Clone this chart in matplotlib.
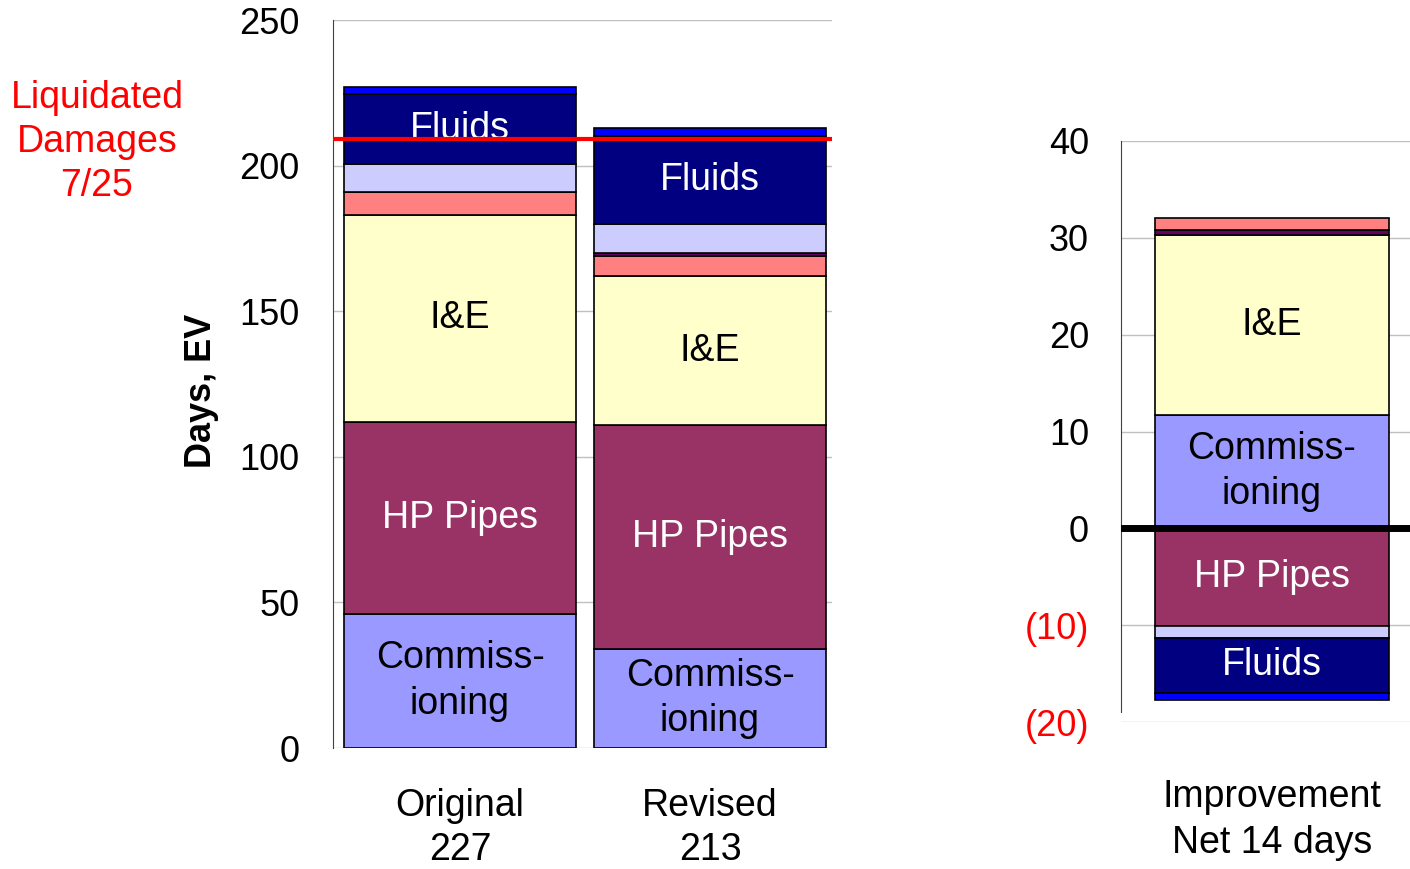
import matplotlib
matplotlib.use("Agg")
import matplotlib.pyplot as plt
import numpy as np

plt.rcParams["font.family"] = ["Liberation Sans", "DejaVu Sans"]

# stacked segments, bottom to top
segments = ["Commissioning", "HP Pipes", "I&E", "Other A", "Other B", "Other C", "Fluids", "Other D"]
seg_colors = ["#9999FF", "#993366", "#FFFFCC", "#FF8080", "#660066", "#CCCCFF", "#000080", "#0000FF"]
seg_labels = ["Commiss-\nioning", "HP Pipes", "I&E", "", "", "", "Fluids", ""]
seg_text_colors = ["black", "white", "black", "black", "white", "black", "white", "white"]

bars = ["Original\n227", "Revised\n213"]
original = [46, 66, 71, 8, 0, 9.5, 24, 2.5]
revised = [34, 77, 51, 7, 1, 10, 30, 3]

liquidated_damages = 209

# improvement (original - revised), drawn as positive / negative stacks
imp_pos_names = ["Commissioning", "I&E", "Other B", "Other A"]
imp_pos = [11.7, 18.6, 0.5, 1.2]
imp_neg_names = ["HP Pipes", "Other C", "Fluids", "Other D"]
imp_neg = [-10.1, -1.2, -5.7, -0.7]
imp_label = "Improvement\nNet 14 days"

color_of = dict(zip(segments, seg_colors))
label_of = dict(zip(segments, seg_labels))
tcolor_of = dict(zip(segments, seg_text_colors))

FS_TICK = 26
FS_BAR = 27
FS_CAT = 27

fig = plt.figure(figsize=(14.1, 8.69), dpi=100)

###############################################################
# left panel

ax = fig.add_axes([333 / 1410, 1 - 748 / 869, 499 / 1410, 728 / 869])

x = np.arange(len(bars))
width = 0.928
data = np.array([original, revised])
bottom = np.zeros(len(bars))

for i, name in enumerate(segments):
    vals = data[:, i]
    ax.bar(x, vals, width, bottom=bottom, color=seg_colors[i],
           edgecolor="black", linewidth=1.2, zorder=2)
    if seg_labels[i]:
        for j in range(len(bars)):
            ax.text(x[j], bottom[j] + vals[j] / 2, seg_labels[i],
                    ha="center", va="center", fontsize=FS_BAR,
                    color=seg_text_colors[i], zorder=3, linespacing=1.33)
    bottom += vals

ax.axhline(liquidated_damages, color="#FF0000", linewidth=3, zorder=4)

ax.set_xlim(-0.508, 1.488)
ax.set_ylim(0, 250)
ax.set_yticks(np.arange(0, 251, 50))
ax.tick_params(axis="y", length=0, pad=24, labelsize=FS_TICK)
ax.tick_params(axis="x", length=0, pad=29, labelsize=FS_CAT)
ax.set_xticks(x)
ax.set_xticklabels(bars, linespacing=1.28)
ax.yaxis.grid(True, color="#C0C0C0", linewidth=1)
ax.set_axisbelow(True)
for s in ["top", "right", "bottom"]:
    ax.spines[s].set_visible(False)
ax.spines["left"].set_color("#404040")

ax.set_ylabel("Days, EV", fontsize=26, fontweight="bold")
ax.yaxis.set_label_coords(-0.228, 0.49)

fig.text(97 / 1410, 1 - 142 / 869, "Liquidated\nDamages\n7/25",
         color="#FF0000", fontsize=27, ha="center", va="center",
         linespacing=1.3)

###############################################################
# right panel

ax2 = fig.add_axes([1121 / 1410, 1 - 722 / 869, 289 / 1410, 581 / 869])

b = 0
for name, v in zip(imp_pos_names, imp_pos):
    ax2.bar(0, v, 1, bottom=b, color=color_of[name],
            edgecolor="black", linewidth=1.2, zorder=2)
    if label_of[name]:
        ax2.text(0, b + v / 2, label_of[name], ha="center", va="center",
                 fontsize=FS_BAR, color=tcolor_of[name], zorder=3,
                 linespacing=1.33)
    b += v

b = 0
for name, v in zip(imp_neg_names, imp_neg):
    ax2.bar(0, v, 1, bottom=b, color=color_of[name],
            edgecolor="black", linewidth=1.2, zorder=2)
    if label_of[name]:
        ax2.text(0, b + v / 2, label_of[name], ha="center", va="center",
                 fontsize=FS_BAR, color=tcolor_of[name], zorder=3)
    b += v

ax2.axhline(0, color="black", linewidth=5, zorder=4)

ax2.set_xlim(-0.645, 0.59)
ax2.set_ylim(-20, 40)
ticks = np.arange(-20, 41, 10)
ax2.set_yticks(ticks)
ax2.set_yticklabels([f"({abs(t)})" if t < 0 else str(t) for t in ticks])
for t, lab in zip(ticks, ax2.get_yticklabels()):
    if t < 0:
        lab.set_color("#FF0000")
ax2.tick_params(axis="y", length=0, pad=23, labelsize=FS_TICK)
ax2.tick_params(axis="x", length=0, pad=41, labelsize=FS_CAT)
ax2.set_xticks([0])
ax2.set_xticklabels([imp_label], linespacing=1.35)
ax2.yaxis.grid(True, color="#C0C0C0", linewidth=1)
ax2.set_axisbelow(True)
for s in ["top", "right", "bottom"]:
    ax2.spines[s].set_visible(False)
ax2.spines["left"].set_color("#404040")
ax2.spines["left"].set_bounds(-19, 40)

fig.savefig("out.png", dpi=100)
